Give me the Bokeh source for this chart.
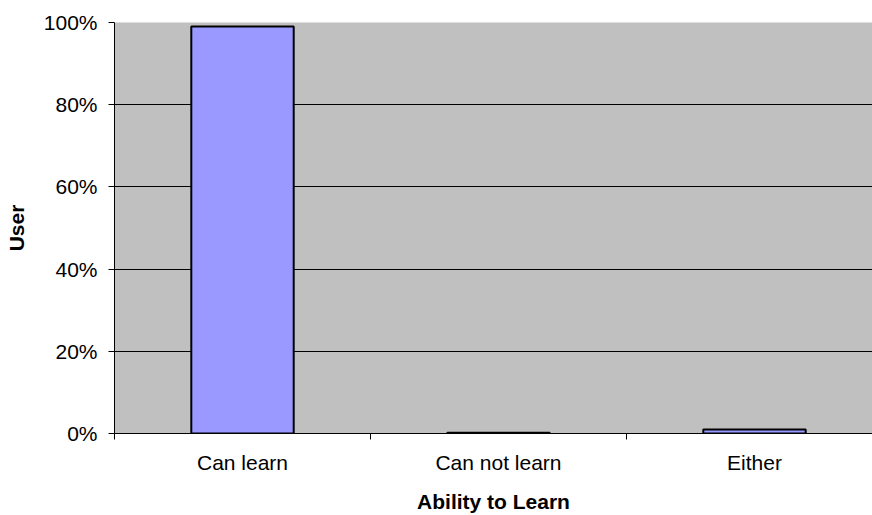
from bokeh.plotting import figure
from bokeh.models import Range1d, FixedTicker, Grid, NumeralTickFormatter
from bokeh.embed import file_html
from bokeh.resources import INLINE

categories = ["Can learn", "Can not learn", "Either"]
values = [0.99, 0.002, 0.01]
y_ticks = [0, 0.2, 0.4, 0.6, 0.8, 1.0]

centers = [i + 0.5 for i in range(len(categories))]

p = figure(width=872, height=515, output_backend="svg", toolbar_location=None,
           x_range=Range1d(0, 758 / 256), y_range=Range1d(0, 1.0),
           min_border_left=114, min_border_top=22, min_border_bottom=82, min_border_right=0)
p.background_fill_color = "#C0C0C0"
p.border_fill_color = "white"
p.outline_line_color = None

p.vbar(x=centers, top=values, bottom=0, width=0.4, fill_color="#9999FF",
       line_color="black", line_width=2)

font = "Liberation Sans"
# x axis
p.xaxis.ticker = FixedTicker(ticks=centers, minor_ticks=[0, 1, 2, 3])
p.xaxis.major_label_overrides = {c: n for c, n in zip(centers, categories)}
p.xaxis.major_tick_out = 0
p.xaxis.major_tick_in = 0
p.xaxis.minor_tick_out = 6
p.xaxis.minor_tick_in = 0
p.xaxis.major_label_standoff = 11
p.xaxis.axis_label = "Ability to Learn"
p.xaxis.axis_label_standoff = 13
# y axis
p.yaxis.ticker = FixedTicker(ticks=y_ticks, minor_ticks=[])
p.yaxis.formatter = NumeralTickFormatter(format="0%")
p.yaxis.major_tick_out = 6
p.yaxis.major_tick_in = 0
p.yaxis.major_label_standoff = 11
p.yaxis.axis_label = "User"
p.yaxis.axis_label_standoff = 13

for ax in (p.xaxis[0], p.yaxis[0]):
    ax.axis_line_color = "black"
    ax.major_tick_line_color = "black"
    ax.minor_tick_line_color = "black"
    ax.major_label_text_font = font
    ax.major_label_text_font_size = "21px"
    ax.major_label_text_color = "black"
    ax.axis_label_text_font = font
    ax.axis_label_text_font_size = "21px"
    ax.axis_label_text_font_style = "bold"
    ax.axis_label_text_color = "black"

p.xgrid.grid_line_color = None
p.ygrid.ticker = FixedTicker(ticks=[0.2, 0.4, 0.6, 0.8])
p.ygrid.grid_line_color = "black"
p.ygrid.grid_line_width = 1
top_grid = Grid(dimension=1, ticker=FixedTicker(ticks=[1.0]),
                grid_line_color="#808080", grid_line_width=2)
p.add_layout(top_grid)

open("out.html", "w").write(file_html(p, INLINE))
